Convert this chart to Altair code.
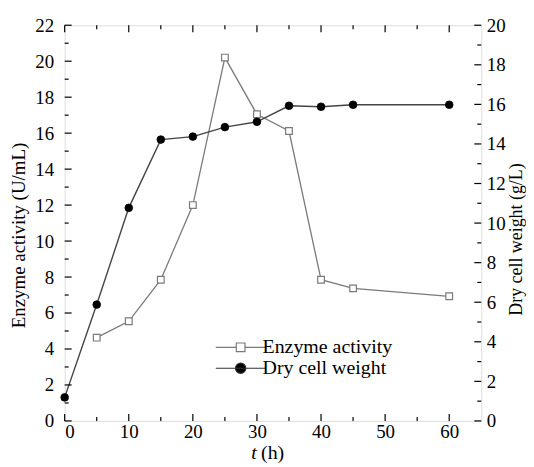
import altair as alt
import pandas as pd

# ---------------- data ----------------
time_h = [0, 5, 10, 15, 20, 25, 30, 35, 40, 45, 60]
dry_cell_weight = [1.19, 5.88, 10.77, 14.22, 14.37, 14.85, 15.12, 15.93, 15.88, 15.98, 15.98]

enzyme_time = [5, 10, 15, 20, 25, 30, 35, 40, 45, 60]
enzyme_activity = [4.63, 5.54, 7.85, 12.0, 20.2, 17.05, 16.12, 7.85, 7.37, 6.93]

series_names = ["Enzyme activity", "Dry cell weight"]

x_major = [0, 10, 20, 30, 40, 50, 60]
x_minor = [5, 15, 25, 35, 45, 55]
left_major = [0, 2, 4, 6, 8, 10, 12, 14, 16, 18, 20, 22]
left_minor = [1, 3, 5, 7, 9, 11, 13, 15, 17, 19, 21]
right_major = [0, 2, 4, 6, 8, 10, 12, 14, 16, 18, 20]
right_minor = [1, 3, 5, 7, 9, 11, 13, 15, 17, 19]

# ---------------- layout ----------------
W, H = 419, 398
FONT = "Liberation Serif"
X_DOMAIN = [0, 65]
LEFT_DOMAIN = [0, 22]
RIGHT_DOMAIN = [0, 20]

x_axis = alt.Axis(values=x_major, format="d", ticks=False, tickSize=0, domain=False, grid=False,
                  labelFont=FONT, labelFontSize=19, labelColor="black", labelPadding=2,
                  title="(h)", titleFont=FONT, titleFontSize=20, titleFontWeight="normal",
                  titleColor="black", titleX=197, titleY=32, titleAlign="left",
                  titleBaseline="middle", titleAnchor="start")
x_enc = lambda f: alt.X(f, scale=alt.Scale(domain=X_DOMAIN, nice=False, zero=False), axis=x_axis)

enz_df = pd.DataFrame({"t": enzyme_time, "v": enzyme_activity})
dry_df = pd.DataFrame({"t": time_h, "v": dry_cell_weight})

left_axis = alt.Axis(values=left_major, format="d", ticks=False, tickSize=0, domain=False, grid=False,
                     orient="left", labelFont=FONT, labelFontSize=19, labelColor="black",
                     labelPadding=11, title="Enzyme activity (U/mL)", titleFont=FONT,
                     titleFontSize=19, titleFontWeight="normal", titleColor="black",
                     titleX=-46, titleY=211, titleAngle=270, titleBaseline="middle",
                     titleAlign="center")
right_axis = alt.Axis(values=right_major, format="d", ticks=False, tickSize=0, domain=False, grid=False,
                      orient="right", labelFont=FONT, labelFontSize=19, labelColor="black",
                      labelPadding=5, title="Dry cell weight (g/L)", titleFont=FONT,
                      titleFontSize=18, titleFontWeight="normal", titleColor="black",
                      titleX=35, titleY=215, titleAngle=270, titleBaseline="middle",
                      titleAlign="center")

enz_y = alt.Y("v:Q", scale=alt.Scale(domain=LEFT_DOMAIN, nice=False), axis=left_axis)
enz_base = alt.Chart(enz_df)
enz_line = enz_base.mark_line(color="#7a7a7a", strokeWidth=1.3).encode(x=x_enc("t:Q"), y=enz_y)
enz_pts = enz_base.mark_point(shape="square", size=45, filled=True, fill="white",
                              stroke="#7a7a7a", strokeWidth=1.2, opacity=1).encode(x=x_enc("t:Q"), y=enz_y)
enz_layer = alt.layer(enz_line, enz_pts)

dry_y = alt.Y("v:Q", scale=alt.Scale(domain=RIGHT_DOMAIN, nice=False), axis=right_axis)
dry_base = alt.Chart(dry_df)
dry_line = dry_base.mark_line(color="#444444", strokeWidth=1.4).encode(x=x_enc("t:Q"), y=dry_y)
dry_pts = dry_base.mark_point(shape="circle", size=60, filled=True, fill="black",
                              stroke="black", strokeWidth=0.8, opacity=1).encode(x=x_enc("t:Q"), y=dry_y)
dry_layer = alt.layer(dry_line, dry_pts)


def tick_layer(values, channel, length, side, domain=None):
    df = pd.DataFrame({"v": values})
    base = alt.Chart(df).mark_rule(color="black", strokeWidth=1.2)
    if channel == "y":
        y = alt.Y("v:Q", scale=alt.Scale(domain=domain, nice=False), axis=None)
        if side == "left":
            return base.encode(y=y, x=alt.value(0), x2=alt.value(length))
        return base.encode(y=y, x=alt.value(W - length), x2=alt.value(W))
    if side == "bottom":
        return base.encode(x=x_enc("v:Q"), y=alt.value(H - length), y2=alt.value(H))
    return base.encode(x=x_enc("v:Q"), y=alt.value(0), y2=alt.value(length))


ticks = [
    tick_layer(left_major, "y", 7, "left", LEFT_DOMAIN),
    tick_layer(left_minor, "y", 4, "left", LEFT_DOMAIN),
    tick_layer(right_major, "y", 7, "right", RIGHT_DOMAIN),
    tick_layer(right_minor, "y", 4, "right", RIGHT_DOMAIN),
    tick_layer(x_major, "x", 7, "bottom"),
    tick_layer(x_minor, "x", 4, "bottom"),
    tick_layer(x_major, "x", 7, "top"),
    tick_layer(x_minor, "x", 4, "top"),
]

# legend: custom symbols (line + marker), data filtered empty so only the legend draws
sq_path = "M-5,0H-0.875M0.875,0H5M-0.875,-0.875H0.875V0.875H-0.875Z"
ci_path = "M-5,0H5M-1.05,0A1.05,1.05,0,1,0,1.05,0A1.05,1.05,0,1,0,-1.05,0Z"
leg_common = dict(orient="none", legendX=167, legendY=314, title=None, padding=0,
                  labelFont=FONT, labelFontSize=20, labelColor="black", labelOffset=12,
                  rowPadding=1, symbolStrokeWidth=1.2)
leg_df = pd.DataFrame({"series": series_names})
legend_layer = alt.Chart(leg_df).mark_point(filled=True, size=64, opacity=1).encode(
    shape=alt.Shape("series:N", scale=alt.Scale(domain=series_names, range=[sq_path, ci_path]),
                    legend=alt.Legend(**leg_common)),
    fill=alt.Fill("series:N", scale=alt.Scale(domain=series_names, range=["white", "black"]),
                  legend=alt.Legend(**leg_common)),
    stroke=alt.Stroke("series:N", scale=alt.Scale(domain=series_names, range=["#7a7a7a", "#333333"]),
                      legend=alt.Legend(**leg_common)),
).transform_filter("false")

# italic t of the x title
t_df = pd.DataFrame({"label": ["t"]})
t_text = alt.Chart(t_df).mark_text(font=FONT, fontSize=20, fontStyle="italic", color="black",
                                   align="center", baseline="middle").encode(
    text="label:N", x=alt.value(190.5), y=alt.value(H + 32))

chart = alt.layer(
    enz_layer, dry_layer, *ticks, legend_layer, t_text
).resolve_scale(y="independent").properties(
    width=W, height=H,
    autosize=alt.AutoSizeParams(type="none"),
    padding={"left": 57, "top": 16, "right": 45, "bottom": 45},
).configure_view(stroke="black", strokeWidth=1.6).configure(background="white").configure_axis(
    labelFont=FONT, labelFontSize=19, labelColor="black", titleFont=FONT, titleColor="black",
    titleFontWeight="normal"
)

chart.save("out.html", embed_options={"renderer": "svg", "actions": False})
